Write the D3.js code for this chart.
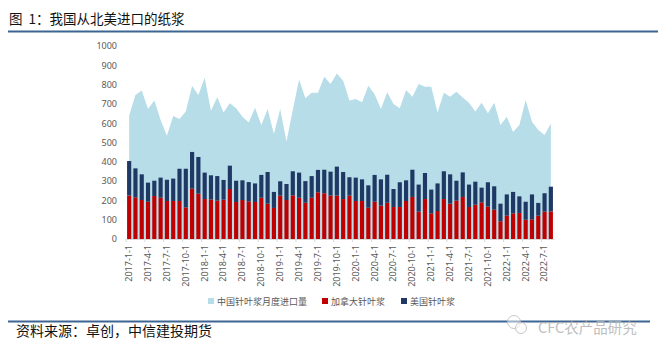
<!DOCTYPE html>
<html>
<head>
<meta charset="utf-8">
<script src="https://cdn.jsdelivr.net/npm/d3@7"></script>
<style>
  body { margin: 0; background: #fff; }
  svg { display: block; font-family: "Noto Sans CJK SC", "Noto Sans", sans-serif; }
</style>
</head>
<body>
<div id="chart"></div>
<script>
'use strict';

// months 2017-1 .. 2022-8
const months = d3.range(68).map(i => `${2017 + Math.floor(i / 12)}-${(i % 12) + 1}-1`);

// China monthly softwood pulp imports (area)
const chinaTotal = [640, 746, 769, 674, 717, 617, 535, 637, 622, 660, 793, 746,
    836, 665, 734, 655, 703, 677, 634, 604, 680, 591, 674, 544,
    674, 505, 668, 827, 729, 758, 758, 841, 803, 858, 820, 717,
    725, 708, 794, 750, 674, 760, 699, 677, 772, 737, 803, 789,
    789, 655, 758, 737, 763, 733, 706, 660, 706, 651, 706, 591,
    634, 554, 591, 720, 608, 565, 539, 599];

// Canada softwood pulp
const canada = [225, 216, 202, 193, 223, 214, 197, 197, 197, 164, 261, 235,
    207, 205, 199, 204, 259, 192, 202, 195, 192, 214, 183, 161,
    225, 202, 226, 214, 188, 214, 242, 237, 225, 225, 207, 225,
    197, 197, 162, 193, 173, 188, 166, 166, 197, 218, 142, 207,
    133, 145, 207, 183, 199, 218, 166, 178, 190, 168, 152, 92,
    121, 133, 135, 100, 102, 121, 142, 143];

// USA softwood pulp
const usa = [179, 150, 133, 99, 79, 104, 110, 116, 167, 200, 190, 190,
    137, 125, 127, 102, 121, 110, 102, 100, 96, 118, 164, 83,
    74, 83, 125, 130, 112, 112, 116, 122, 124, 150, 140, 95,
    121, 112, 116, 139, 136, 145, 93, 128, 107, 141, 140, 135,
    123, 143, 144, 152, 103, 127, 116, 119, 76, 126, 121, 91,
    110, 111, 86, 93, 129, 66, 95, 128];

const yTicks = d3.range(0, 1001, 100);
const legendItems = [
    { label: '中国针叶浆月度进口量', color: '#b7dde8' },
    { label: '加拿大针叶浆', color: '#c00000' },
    { label: '美国针叶浆', color: '#1f3864' }
];

const width = 666, height = 354;
const svg = d3.select('#chart').append('svg')
    .attr('width', width)
    .attr('height', height);

// title + rule
svg.append('text')
    .attr('x', 9).attr('y', 24)
    .attr('font-size', 13.5)
    .attr('fill', '#111')
    .attr('xml:space', 'preserve')
    .style('white-space', 'pre')
    .text('图  1：我国从北美进口的纸浆');
svg.append('line')
    .attr('x1', 8).attr('x2', 658).attr('y1', 31.5).attr('y2', 31.5)
    .attr('stroke', '#3d6594').attr('stroke-width', 2.2);

const x = d3.scaleBand()
    .domain(months)
    .range([126, 554])
    .paddingInner(0.34)
    .paddingOuter(0.17);

const y = d3.scaleLinear()
    .domain([0, 1000])
    .range([239, 46]);

// area: total imports
const area = d3.area()
    .x(d => x(d.m) + x.bandwidth() / 2)
    .y0(y(0))
    .y1(d => y(d.v));

svg.append('path')
    .datum(months.map((m, i) => ({ m, v: chinaTotal[i] })))
    .attr('fill', '#b7dde8')
    .attr('d', area);

// stacked bars
const stackData = months.map((m, i) => ({ m, canada: canada[i], usa: usa[i] }));
const series = d3.stack().keys(['canada', 'usa'])(stackData);
const barColor = { canada: '#c00000', usa: '#1f3864' };

svg.append('g')
    .selectAll('g')
    .data(series)
    .join('g')
    .attr('fill', s => barColor[s.key])
    .selectAll('rect')
    .data(s => s)
    .join('rect')
    .attr('x', d => x(d.data.m))
    .attr('width', x.bandwidth())
    .attr('y', d => y(d[1]))
    .attr('height', d => y(d[0]) - y(d[1]));

// y axis labels (no axis line)
const yAxis = svg.append('g')
    .attr('transform', 'translate(122,0)')
    .call(d3.axisLeft(y).tickValues(yTicks).tickFormat(d3.format('d')).tickSize(0).tickPadding(5));
yAxis.select('.domain').remove();
yAxis.selectAll('text')
    .attr('font-size', 9)
    .attr('fill', '#595959')
    .attr('font-family', '"Noto Sans", sans-serif');

// x axis
const labelMonths = months.filter((m, i) => i % 3 === 0);
const xAxis = svg.append('g')
    .attr('transform', `translate(0,${y(0)})`)
    .call(d3.axisBottom(x).tickValues(labelMonths).tickSize(0).tickPadding(0));
xAxis.select('.domain').attr('stroke', '#d9d9d9');
xAxis.selectAll('text')
    .attr('font-size', 9)
    .attr('fill', '#595959')
    .attr('font-family', '"Noto Sans", sans-serif')
    .attr('text-anchor', 'end')
    .attr('dy', '0.32em')
    .attr('transform', 'translate(0,6) rotate(-90)');

// small tick marks at band starts every 3 months
svg.append('g')
    .selectAll('line')
    .data(labelMonths)
    .join('line')
    .attr('x1', m => x(m) - x.step() * x.paddingInner() / 2)
    .attr('x2', m => x(m) - x.step() * x.paddingInner() / 2)
    .attr('y1', y(0))
    .attr('y2', y(0) + 3)
    .attr('stroke', '#d9d9d9');

// legend
const legendX = [208, 322, 401];
const legend = svg.append('g')
    .selectAll('g')
    .data(legendItems)
    .join('g')
    .attr('transform', (d, i) => `translate(${legendX[i]},302)`);
legend.append('rect')
    .attr('x', 0).attr('y', -4)
    .attr('width', 6).attr('height', 6)
    .attr('fill', d => d.color);
legend.append('text')
    .attr('x', 9).attr('y', 3)
    .attr('font-size', 9)
    .attr('fill', '#595959')
    .text(d => d.label);

// footer
svg.append('line')
    .attr('x1', 8).attr('x2', 650).attr('y1', 321.5).attr('y2', 321.5)
    .attr('stroke', '#3d6594').attr('stroke-width', 2.2);
svg.append('text')
    .attr('x', 16).attr('y', 336)
    .attr('font-size', 14)
    .attr('fill', '#111')
    .text('资料来源：卓创，中信建投期货');

// watermark
const wm = svg.append('g').attr('opacity', 0.8);
wm.append('circle').attr('cx', 514).attr('cy', 322).attr('r', 6.5)
    .attr('fill', '#fff').attr('fill-opacity', 0.6).attr('stroke', '#bbb');
wm.append('circle').attr('cx', 521).attr('cy', 328).attr('r', 5.5)
    .attr('fill', '#fff').attr('fill-opacity', 0.6).attr('stroke', '#bbb');
wm.append('text')
    .attr('x', 538).attr('y', 333)
    .attr('font-size', 14.5)
    .attr('fill', '#b0b0b0')
    .text('CFC农产品研究');
</script>
</body>
</html>
